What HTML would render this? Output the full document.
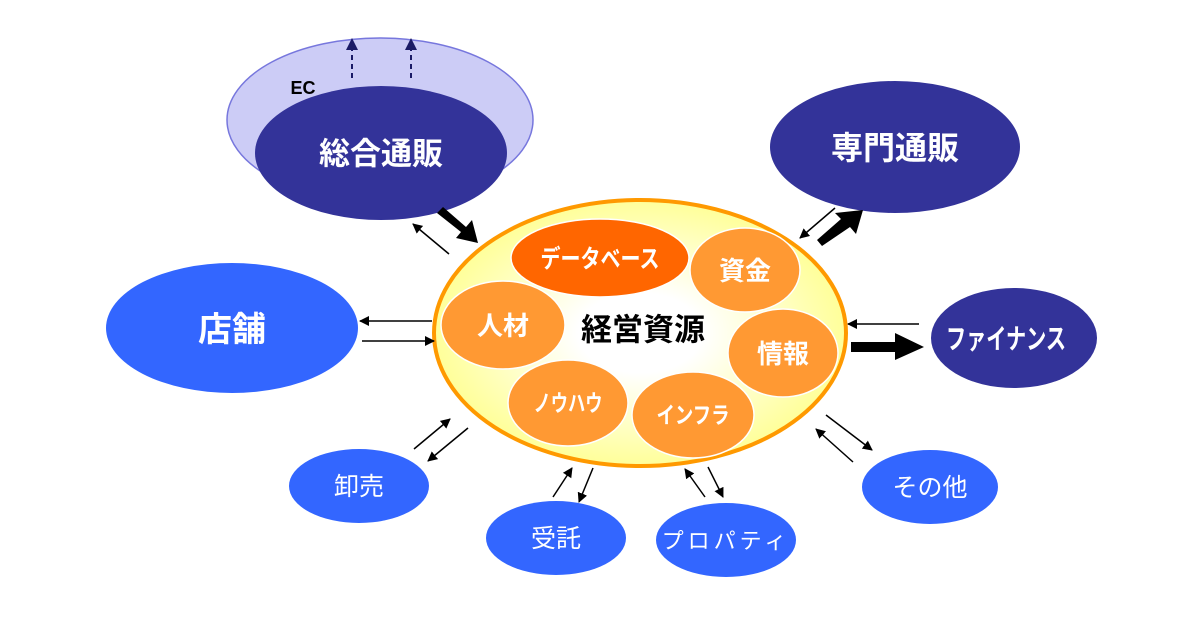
<!DOCTYPE html>
<html><head><meta charset="utf-8"><style>
html,body{margin:0;padding:0;background:#fff;}
svg{display:block;}
text{font-family:"Liberation Sans","Noto Sans CJK JP",sans-serif;font-weight:bold;text-anchor:middle;dominant-baseline:central;}
</style></head><body>
<svg width="1200" height="630" viewBox="0 0 1200 630" xmlns="http://www.w3.org/2000/svg">
<defs>
<marker id="a" markerWidth="10" markerHeight="10" refX="9" refY="5" orient="auto" markerUnits="userSpaceOnUse"><path d="M0,0 L10,5 L0,10 z" fill="#000"/></marker>
<marker id="d" markerWidth="12" markerHeight="12" refX="10" refY="6" orient="auto" markerUnits="userSpaceOnUse"><path d="M0,0 L12,6 L0,12 z" fill="#1a1a66"/></marker>
<radialGradient id="g" cx="0.5" cy="0.5" r="0.5"><stop offset="0.3" stop-color="#ffffff"/><stop offset="1" stop-color="#ffff99"/></radialGradient>
</defs>
<rect width="1200" height="630" fill="#fff"/>
<ellipse cx="380" cy="120" rx="153" ry="82" fill="#ccccf6" stroke="#7777dd" stroke-width="1.5"/>
<text x="303" y="88" font-size="18" fill="#000">EC</text>
<line x1="352" y1="78" x2="352" y2="40" stroke="#1a1a66" stroke-width="2" stroke-dasharray="5,4" marker-end="url(#d)"/>
<line x1="411" y1="78" x2="411" y2="40" stroke="#1a1a66" stroke-width="2" stroke-dasharray="5,4" marker-end="url(#d)"/>
<ellipse cx="381" cy="153" rx="126" ry="67" fill="#333399"/>
<text x="381" y="154" font-size="31" fill="#fff">総合通販</text>
<ellipse cx="895" cy="147" rx="125" ry="66" fill="#333399"/>
<text x="895" y="148" font-size="32" fill="#fff">専門通販</text>
<ellipse cx="232" cy="328" rx="126" ry="65" fill="#3366ff"/>
<text x="232" y="330" font-size="34" fill="#fff">店舗</text>
<ellipse cx="1014" cy="338" rx="83" ry="50" fill="#333399"/>
<text x="0" y="0" font-size="28" fill="#fff" transform="translate(1006,340) scale(0.72,1)">ファイナンス</text>
<ellipse cx="359" cy="486" rx="70" ry="37" fill="#3366ff"/>
<text x="359" y="487" font-size="25" fill="#fff" style="font-weight:normal">卸売</text>
<ellipse cx="556" cy="538" rx="70" ry="37" fill="#3366ff"/>
<text x="556" y="539" font-size="25" fill="#fff" style="font-weight:normal">受託</text>
<ellipse cx="726" cy="540" rx="70" ry="37" fill="#3366ff"/>
<text x="726" y="541" font-size="22" fill="#fff" style="font-weight:normal" letter-spacing="4">プロパティ</text>
<ellipse cx="930" cy="487" rx="68" ry="37" fill="#3366ff"/>
<text x="930" y="488" font-size="25" fill="#fff" style="font-weight:normal">その他</text>
<ellipse cx="640" cy="333" rx="206" ry="133" fill="url(#g)" stroke="#ff9900" stroke-width="4"/>
<ellipse cx="600" cy="258" rx="89" ry="39" fill="#ff6600" stroke="#fff" stroke-width="1.5"/>
<text x="0" y="0" font-size="25" fill="#fff" transform="translate(600,259) scale(0.8,1)">データベース</text>
<ellipse cx="745" cy="270" rx="55" ry="42" fill="#ff9933" stroke="#fff" stroke-width="1.5"/>
<text x="745" y="271" font-size="26" fill="#fff">資金</text>
<ellipse cx="503" cy="325" rx="62" ry="44" fill="#ff9933" stroke="#fff" stroke-width="1.5"/>
<text x="503" y="326" font-size="26" fill="#fff">人材</text>
<ellipse cx="783" cy="353" rx="55" ry="44" fill="#ff9933" stroke="#fff" stroke-width="1.5"/>
<text x="783" y="354" font-size="26" fill="#fff">情報</text>
<ellipse cx="568" cy="403" rx="60" ry="43" fill="#ff9933" stroke="#fff" stroke-width="1.5"/>
<text x="0" y="0" font-size="23" fill="#fff" transform="translate(568,404) scale(0.75,1)">ノウハウ</text>
<ellipse cx="693" cy="415" rx="61" ry="43" fill="#ff9933" stroke="#fff" stroke-width="1.5"/>
<text x="0" y="0" font-size="23" fill="#fff" transform="translate(693,416) scale(0.8,1)">インフラ</text>
<text x="643" y="330" font-size="31" fill="#000">経営資源</text>
<g stroke="#000" stroke-width="1.5" fill="none">
<line x1="449" y1="254" x2="413" y2="224" marker-end="url(#a)"/>
<line x1="835" y1="208" x2="800" y2="238" marker-end="url(#a)"/>
<line x1="432" y1="321" x2="360" y2="321" marker-end="url(#a)"/>
<line x1="362" y1="341" x2="434" y2="341" marker-end="url(#a)"/>
<line x1="919" y1="324" x2="848" y2="324" marker-end="url(#a)"/>
<line x1="414" y1="449" x2="450" y2="419" marker-end="url(#a)"/>
<line x1="468" y1="428" x2="428" y2="461" marker-end="url(#a)"/>
<line x1="553" y1="497" x2="572" y2="468" marker-end="url(#a)"/>
<line x1="593" y1="468" x2="579" y2="502" marker-end="url(#a)"/>
<line x1="705" y1="497" x2="685" y2="469" marker-end="url(#a)"/>
<line x1="708" y1="467" x2="723" y2="497" marker-end="url(#a)"/>
<line x1="826" y1="415" x2="872" y2="450" marker-end="url(#a)"/>
<line x1="853" y1="462" x2="816" y2="429" marker-end="url(#a)"/>
</g>
<g fill="#000">
<path d="M437,213 L443,207 L466,227 L472,220 L478,243 L456,238 L461,232 L437,213 z"/>
<path d="M822,246 L817,240 L841,219 L835,213 L863,210 L856,234 L850,227 z"/>
<path d="M851,342 L895,342 L895,333 L924,347 L895,360 L895,352 L851,352 z"/>
</g>
</svg>
</body></html>
